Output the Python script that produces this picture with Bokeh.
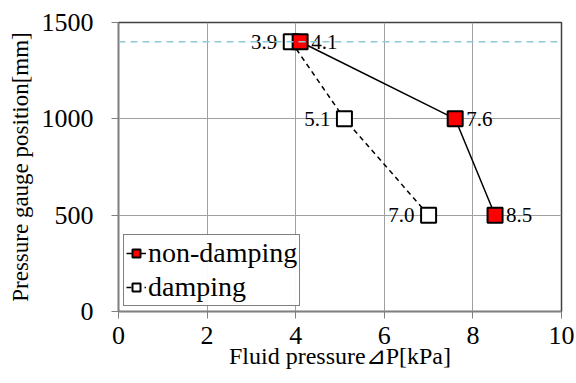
from bokeh.plotting import figure
from bokeh.layouts import gridplot
from bokeh.models import ColumnDataSource, Span, Legend, LegendItem, FixedTicker, Range1d
from bokeh.embed import file_html
from bokeh.resources import INLINE
from bokeh.core.properties import value

# data
nd_pressure = [4.1, 7.6, 8.5]
nd_position = [1400, 1000, 500]
nd_labels = ["4.1", "7.6", "8.5"]
d_pressure = [3.9, 5.1, 7.0]
d_position = [1400, 1000, 500]
d_labels = ["3.9", "5.1", "7.0"]
x_ticks = [0, 2, 4, 6, 8, 10]
y_ticks = [0, 500, 1000, 1500]
ref_level = 1400

F = "Liberation Serif"

p = figure(width=576, height=383, output_backend="svg", toolbar_location=None,
           x_range=Range1d(0, 10), y_range=Range1d(0, 1500),
           min_border_left=118, min_border_top=22, min_border_right=15, min_border_bottom=72)

p.xaxis.ticker = FixedTicker(ticks=x_ticks)
p.yaxis.ticker = FixedTicker(ticks=y_ticks)
p.yaxis.major_label_text_font = F
p.yaxis.major_label_text_font_size = "26px"
p.xaxis.major_label_text_font = F
p.xaxis.major_label_text_font_size = "26px"
p.xaxis.axis_label = "Fluid pressure⊿P[kPa]"
p.xaxis.axis_label_text_font = F
p.xaxis.axis_label_text_font_size = "24px"
p.xaxis.axis_label_text_font_style = "normal"
p.yaxis.axis_label = "Pressure gauge position[mm]"
p.yaxis.axis_label_text_font = F
p.yaxis.axis_label_text_font_size = "23px"
p.yaxis.axis_label_text_font_style = "normal"
p.xaxis.major_label_standoff = 8
p.xaxis.axis_label_standoff = -4
p.yaxis.major_label_standoff = 18
p.yaxis.axis_label_standoff = 6
for ax in (p.xaxis, p.yaxis):
    ax.major_label_text_color = "black"
    ax.axis_label_text_color = "black"
    ax.axis_line_color = "#808080"
    ax.axis_line_width = 1.5
    ax.major_tick_line_color = "#808080"
    ax.major_tick_out = 7
    ax.major_tick_in = 0
    ax.minor_tick_line_color = None

p.xgrid.grid_line_color = "#a0a0a0"
p.ygrid.grid_line_color = "#a0a0a0"
p.outline_line_color = "#404040"
p.outline_line_width = 1.5

p.add_layout(Span(location=ref_level, dimension="width", line_color="#8fc9d9",
                  line_width=1.5, line_dash="7 5"))

nd_src = ColumnDataSource(dict(x=nd_pressure, y=nd_position, t=nd_labels))
d_src = ColumnDataSource(dict(x=d_pressure, y=d_position, t=d_labels))

nd_line = p.line("x", "y", source=nd_src, line_color="black", line_width=1.5)
d_line = p.line("x", "y", source=d_src, line_color="black", line_width=1.5, line_dash="5 4")
d_mark = p.scatter("x", "y", source=d_src, marker="square", size=15,
                   fill_color="white", line_color="black", line_width=2)
nd_mark = p.scatter("x", "y", source=nd_src, marker="square", size=15,
                    fill_color="red", line_color="black", line_width=2)

p.text("x", "y", text="t", source=nd_src, x_offset=11, text_align="left",
       text_baseline="middle", text_font=value(F), text_font_size="21px", text_color="black")
p.text("x", "y", text="t", source=d_src, x_offset=-14, text_align="right",
       text_baseline="middle", text_font=value(F), text_font_size="21px", text_color="black")

legend = Legend(items=[LegendItem(label="non-damping", renderers=[nd_line, nd_mark]),
                       LegendItem(label="damping", renderers=[d_line, d_mark])],
                location="bottom_left")
legend.label_text_font = F
legend.label_text_font_size = "28px"
legend.label_text_color = "black"
legend.border_line_color = "black"
legend.border_line_width = 1
legend.glyph_width = 20
legend.glyph_height = 20
legend.label_standoff = 2
legend.padding = 2
legend.spacing = 2
legend.margin = 5
p.add_layout(legend)

g = gridplot([[p]], toolbar_location=None)
open("out.html", "w").write(file_html(g, INLINE))
